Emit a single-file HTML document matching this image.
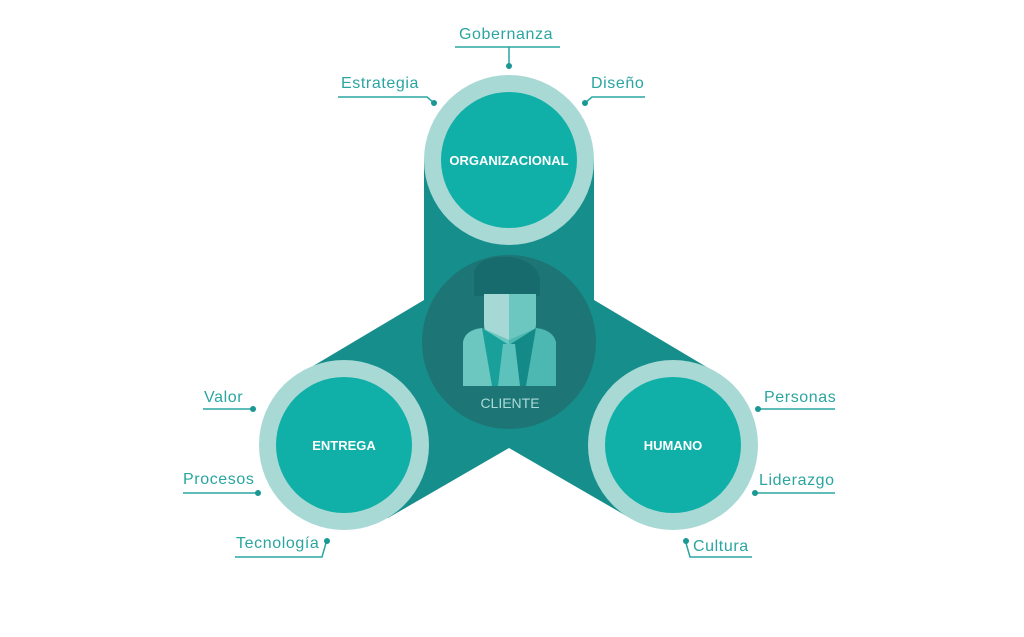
<!DOCTYPE html>
<html><head><meta charset="utf-8"><style>
html,body{margin:0;padding:0;background:#fff;width:1024px;height:637px;overflow:hidden}
svg text{font-family:"Liberation Sans",sans-serif}
</style></head><body>
<svg width="1024" height="637" viewBox="0 0 1024 637">
<polygon points="424,160 594,160 594,300 715,372 630,518 509,448 388,518 303,372 424,300" fill="#168f8c"/>
<circle cx="509" cy="342" r="87" fill="#1d7576"/>
<!-- person -->
<path d="M474,290 L474,272 Q478,258 500,257 L512,257 Q536,262 540,278 L540,296 L474,296Z" fill="#176b6c"/>
<path d="M484,294 L509,294 L509,340 L496,340 Q484,336 484,324Z" fill="#a6d9d5"/>
<path d="M509,294 L536,294 L536,324 Q536,336 522,340 L509,340Z" fill="#6cc7c1"/>
<path d="M463,386 L463,342 Q465,330 482,328 L509,340 L509,386Z" fill="#6cc7c1"/>
<path d="M509,340 L536,328 Q553,330 556,342 L556,386 L509,386Z" fill="#4db8b2"/>
<path d="M482,328 L492,386 L500,386 L509,345Z" fill="#1aa09b"/>
<path d="M536,328 L526,386 L518,386 L509,345Z" fill="#138a87"/>
<path d="M503,344 L515,344 L520,386 L498,386Z" fill="#5ec2bc"/>
<text x="510" y="408" font-size="14" fill="#a9dcd8" text-anchor="middle">CLIENTE</text>
<!-- circles -->
<g>
<circle cx="509" cy="160" r="85" fill="#a8d9d5"/><circle cx="509" cy="160" r="68" fill="#10b0a8"/>
<circle cx="344" cy="445" r="85" fill="#a8d9d5"/><circle cx="344" cy="445" r="68" fill="#10b0a8"/>
<circle cx="673" cy="445" r="85" fill="#a8d9d5"/><circle cx="673" cy="445" r="68" fill="#10b0a8"/>
</g>
<g font-weight="bold" font-size="13" fill="#fff" text-anchor="middle">
<text x="509" y="165">ORGANIZACIONAL</text>
<text x="344" y="450">ENTREGA</text>
<text x="673" y="450">HUMANO</text>
</g>
<!-- labels -->
<g font-size="16" fill="#2aa5a0" letter-spacing="0.6">
<text x="459" y="39">Gobernanza</text>
<text x="341" y="88">Estrategia</text>
<text x="591" y="88">Diseño</text>
<text x="204" y="402">Valor</text>
<text x="183" y="484">Procesos</text>
<text x="236" y="548">Tecnología</text>
<text x="764" y="402">Personas</text>
<text x="759" y="485">Liderazgo</text>
<text x="693" y="551">Cultura</text>
</g>
<g stroke="#2aa5a0" stroke-width="1.5" fill="none">
<path d="M455,47 H560 M509,47 V66"/>
<path d="M338,97 H427 L434,103"/>
<path d="M645,97 H592 L585,103"/>
<path d="M203,409 H253"/>
<path d="M183,493 H258"/>
<path d="M235,557 H322 L326,543"/>
<path d="M835,409 H758"/>
<path d="M835,493 H755"/>
<path d="M752,557 H690 L686,543"/>
</g>
<g fill="#1a9893">
<circle cx="509" cy="66" r="3"/><circle cx="434" cy="103" r="3"/><circle cx="585" cy="103" r="3"/>
<circle cx="253" cy="409" r="3"/><circle cx="258" cy="493" r="3"/><circle cx="327" cy="541" r="3"/>
<circle cx="758" cy="409" r="3"/><circle cx="755" cy="493" r="3"/><circle cx="686" cy="541" r="3"/>
</g>
</svg>
</body></html>
